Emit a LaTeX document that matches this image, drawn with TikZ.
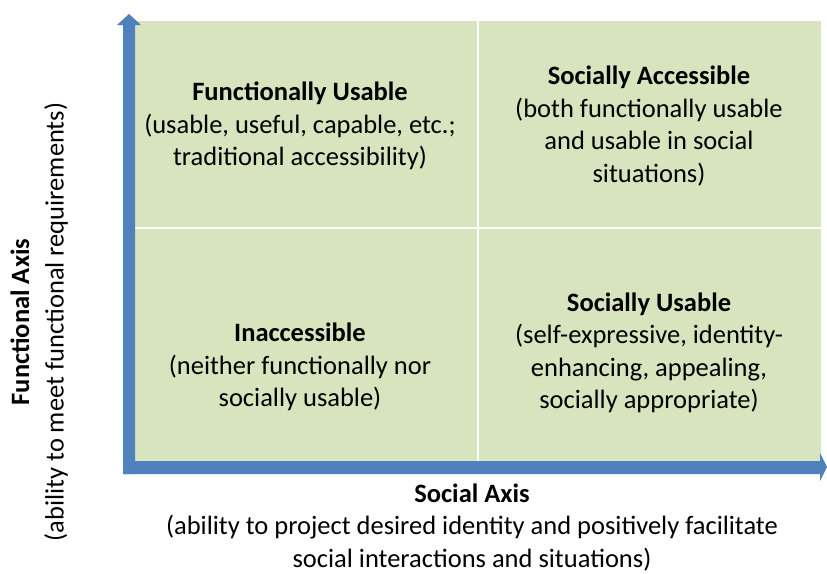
\documentclass[tikz,border=0pt]{standalone}
\usepackage{fontspec}
\setmainfont{Carlito}
\definecolor{quadgreen}{HTML}{D7E4BD}
\definecolor{axisblue}{HTML}{4F81BD}
\begin{document}
\begin{tikzpicture}[x=1pt,y=-1pt,
  quad/.style={fill=quadgreen,draw=none,inner sep=0pt,minimum width=342pt},
  lbl/.style={align=center,font=\fontsize{26.5}{32.5}\selectfont,inner sep=0pt},
  axisarrow/.style={fill=axisblue,draw=none}]
\useasboundingbox (0,0) rectangle (827,573);
% quadrants
\node[quad,minimum height=206pt,anchor=north west] (tl) at (135,21) {};
\node[quad,minimum height=206pt,anchor=north west] (tr) at (479,21) {};
\node[quad,minimum height=232pt,anchor=north west] (bl) at (135,229) {};
\node[quad,minimum height=232pt,anchor=north west] (br) at (479,229) {};
% axes
\fill[axisarrow] (123,474) -- (123,25) -- (117,25) -- (129,14) -- (141,25) -- (135,25) -- (135,474) -- cycle;
\fill[axisarrow] (123,474) -- (123,461) -- (820,461) -- (820,453) -- (827,467) -- (820,481) -- (820,474) -- cycle;
% quadrant texts
\node[lbl] (tltext) at (300,126) {\textbf{Functionally Usable}\\(usable, useful, capable, etc.;\\traditional accessibility)};
\node[lbl] (trtext) at (649,126) {\textbf{Socially Accessible}\\(both functionally usable\\and usable in social\\situations)};
\node[lbl] (bltext) at (300,367) {\textbf{Inaccessible}\\(neither functionally nor\\socially usable)};
\node[lbl] (brtext) at (649,353) {\textbf{Socially Usable}\\(self-expressive, identity-\\enhancing, appealing,\\socially appropriate)};
% axis labels
\node[lbl] (xtitle) at (472,493) {\textbf{Social Axis}};
\node[lbl] (xsub) at (472,543) {(ability to project desired identity and positively facilitate\\social interactions and situations)};
\node[lbl,rotate=90] (ytitle) at (20,322) {\textbf{Functional Axis}};
\node[lbl,rotate=90] (ysub) at (56,322) {(ability to meet functional requirements)};
\end{tikzpicture}
\end{document}
